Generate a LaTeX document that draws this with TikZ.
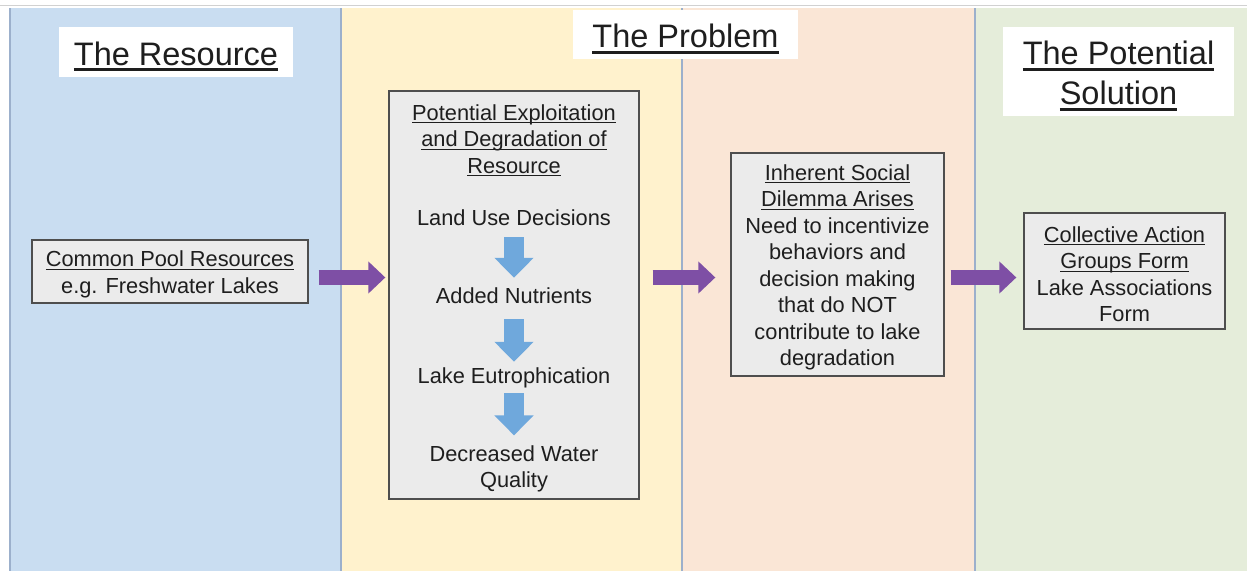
\documentclass[tikz,border=0pt]{standalone}
\usepackage{fontspec}
\setmainfont{Liberation Sans}
\usetikzlibrary{arrows.meta}

\definecolor{resblue}{HTML}{C9DDF1}
\definecolor{probyellow}{HTML}{FFF2CD}
\definecolor{probpink}{HTML}{FAE6D6}
\definecolor{solgreen}{HTML}{E5EDDA}
\definecolor{divider}{HTML}{9CB0CC}
\definecolor{boxfill}{HTML}{EBEBEB}
\definecolor{boxedge}{HTML}{4E4E4E}
\definecolor{flowpurple}{HTML}{7E4FA5}
\definecolor{stepblue}{HTML}{6FA8DC}
\definecolor{inktext}{HTML}{1E1E1E}

% underlined text with a rule of chosen offset and thickness
\newcommand\ruleunder[3]{\leavevmode\setbox0\hbox{#3}\rlap{\rule[-#1]{\wd0}{#2}}\box0}
\newcommand\headul[1]{\ruleunder{6pt}{2.8pt}{#1}}
\newcommand\bodyul[1]{\ruleunder{3pt}{1pt}{#1}}
\newcommand\headfont{\fontsize{32.5}{40}\selectfont}
\newcommand\bodyfont{\fontsize{21.8}{26.5}\selectfont}
% extra room above the first line, to set a block a little lower in its box
\newcommand\headgap{\rule{0pt}{32pt}}
\newcommand\bodygap{\rule{0pt}{22pt}}

\begin{document}
\begin{tikzpicture}[x=1pt,y=-1pt,
  titlebox/.style={fill=white, inner sep=0pt, align=center, font=\headfont, text=inktext},
  flowbox/.style={draw=boxedge, fill=boxfill, line width=1.3pt, inner sep=0pt,
    align=center, font=\bodyfont, text=inktext},
  steptext/.style={inner sep=0pt, align=center, font=\bodyfont, text=inktext},
  oneline/.style={steptext, text height=16pt, text depth=5pt},
  flowarrow/.style={draw=flowpurple, line width=15pt, -{Triangle[length=17pt,width=31pt]}},
  stepflow/.style={draw=stepblue, line width=20pt, -{Triangle[length=20pt,width=38pt]}},
  divline/.style={draw=divider, line width=1.5pt}]

\useasboundingbox (0,0) rectangle (1247,571);
\fill[white] (0,0) rectangle (1247,571);
\draw[line width=1pt, draw=black!18] (0,5) -- (1247,5);

% four columns
\fill[resblue]    (10,8)  rectangle (341,571);
\fill[probyellow] (341,8) rectangle (682,571);
\fill[probpink]   (682,8) rectangle (975,571);
\fill[solgreen]   (975,8) rectangle (1247,571);
\draw[divline] (10,8) -- (10,571);
\draw[divline] (341,8) -- (341,571);
\draw[divline] (682,8) -- (682,571);
\draw[divline] (975,8) -- (975,571);

% column headings
\node[titlebox, minimum width=234, minimum height=50] (restitle) at (176,52) {\headgap\headul{The Resource}};
\node[titlebox, minimum width=225, minimum height=49] (probtitle) at (685.5,34.5) {\headgap\headul{The Problem}};
\node[titlebox, minimum width=231, minimum height=89] (soltitle) at (1118.5,71.5)
  {\headgap\headul{The Potential}\\\headul{Solution}};

% resource box
\node[flowbox, minimum width=276, minimum height=63] (cpr) at (170,271.5)
  {\bodygap\bodyul{Common Pool Resources}\\e.g. Freshwater Lakes};

% exploitation chain
\node[flowbox, minimum width=250, minimum height=408] (expl) at (514,295) {};
\node[steptext] (exphead) at (514,140.5)
  {\bodyul{Potential Exploitation}\\\bodyul{and Degradation of}\\\bodyul{Resource}};
\node[oneline] (land) at (514,220) {Land Use Decisions};
\node[oneline] (added) at (514,298) {Added Nutrients};
\node[oneline] (eutro) at (514,378) {Lake Eutrophication};
\node[steptext] (water) at (514,469) {Decreased Water\\Quality};

\draw[stepflow, shorten <=6.5pt, shorten >=9.5pt] (land) -- (added);
\draw[stepflow, shorten <=10.5pt, shorten >=5.5pt] (added) -- (eutro);
\draw[stepflow, shorten <=4.5pt, shorten >=10pt] (eutro) -- (water);

% dilemma box
\node[flowbox, minimum width=213, minimum height=223] (dil) at (837.5,264.5)
  {\bodygap\bodyul{Inherent Social}\\\bodyul{Dilemma Arises}\\Need to incentivize\\behaviors and\\decision making\\that do NOT\\contribute to lake\\degradation};

% solution box
\node[flowbox, minimum width=201, minimum height=116] (col) at (1124.5,271)
  {\bodygap\bodyul{Collective Action}\\\bodyul{Groups Form}\\Lake Associations\\Form};

% flow between columns
\coordinate (flowy) at (0,277.5);
\draw[flowarrow, shorten <=10pt, shorten >=3pt] (cpr.east |- flowy) -- (expl.west |- flowy);
\draw[flowarrow, shorten <=13pt, shorten >=15pt] (expl.east |- flowy) -- (dil.west |- flowy);
\draw[flowarrow, shorten <=6pt, shorten >=7pt] (dil.east |- flowy) -- (col.west |- flowy);
\end{tikzpicture}
\end{document}
